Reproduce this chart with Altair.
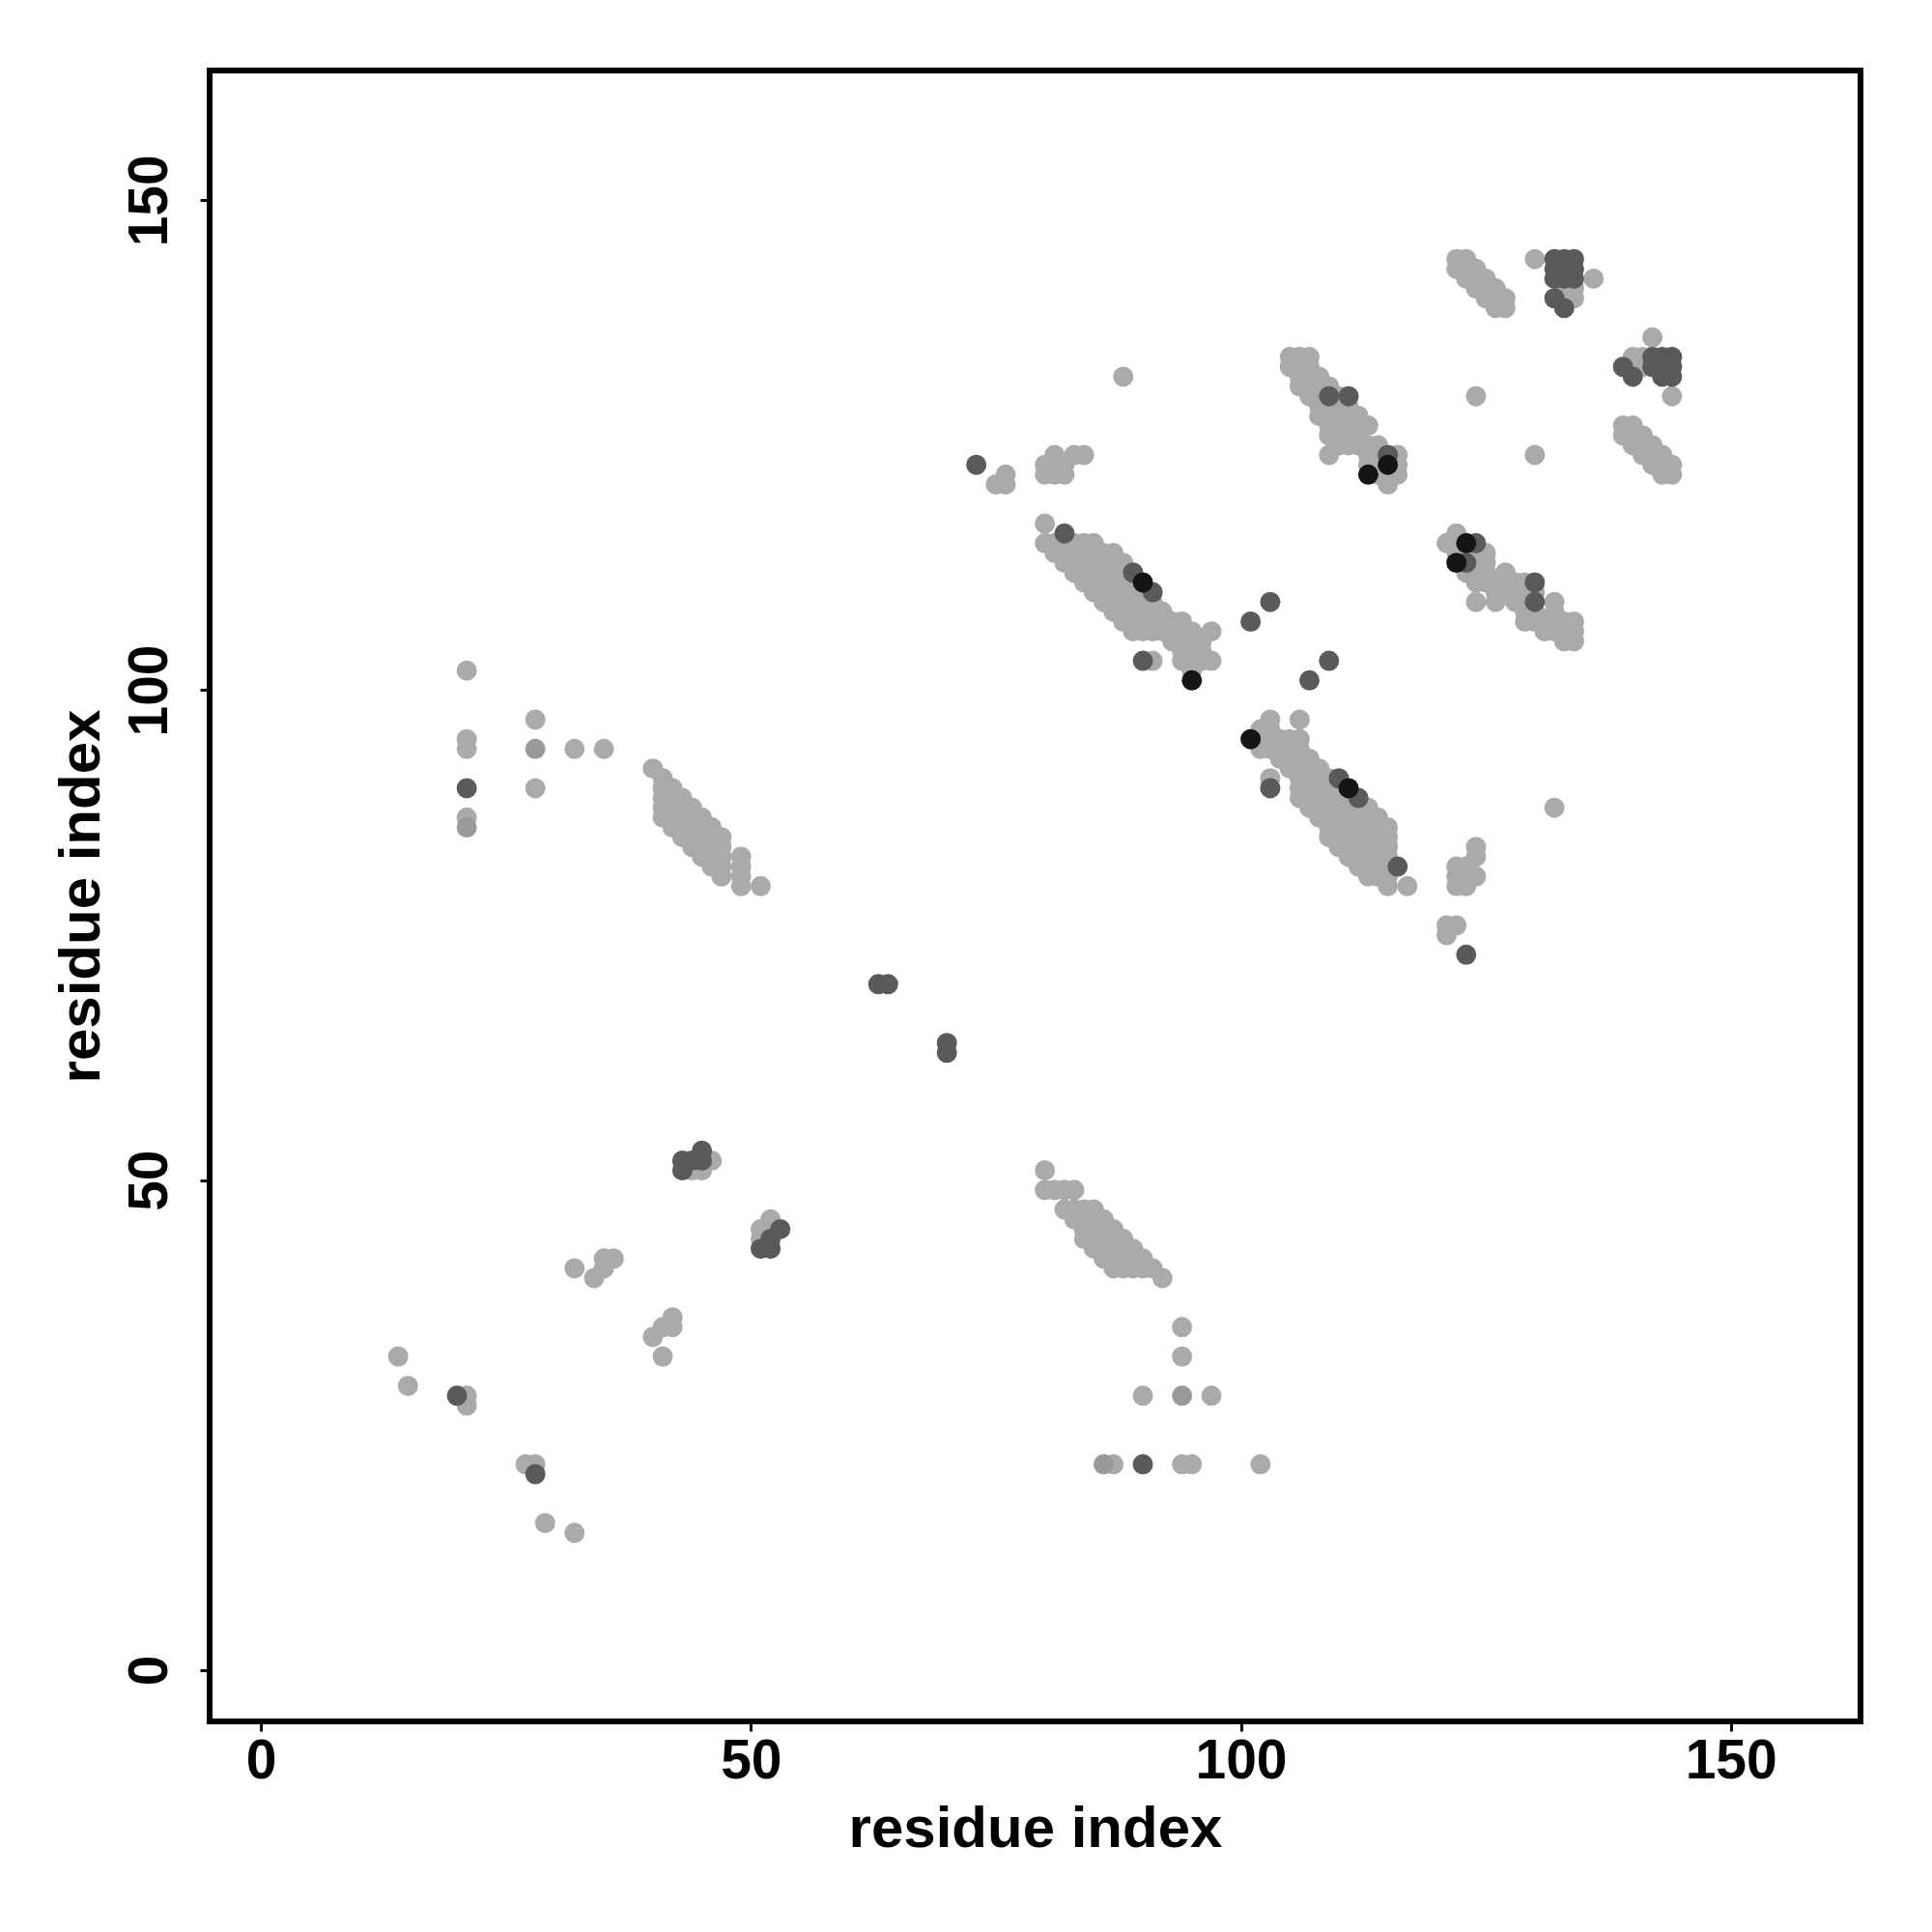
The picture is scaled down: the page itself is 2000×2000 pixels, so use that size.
import altair as alt
import pandas as pd

# ---- contact points (residue i, residue j) ----
light_x = [
    # top-right band A
    122,123,122,123,124,123,124,125,124,125,126,125,126,127,126,127,
    130,136,133,134,133,134,
    140,141,140,141,142,144,124,130,
    # band near (139..144, 127..122)
    139,140,139,140,141,140,141,142,141,142,143,142,143,144,143,144,
    # cluster B
    105,106,107,105,106,107,106,107,108,107,108,109,108,110,109,110,110,111,
    109,110,111,112,111,112,109,109,111,112,113,113,114,113,114,116,114,115,116,115,
    106,107,108,108,109,111,112,113,114,110,116,
    88,
    # cluster C top
    75,76,76,80,80,81,81,81,82,82,83,84,
    # band C
    80,81,81,82,82,82,83,83,83,83,84,84,84,84,84,85,85,85,85,85,85,
    86,86,86,86,86,86,87,87,87,87,87,87,87,88,88,88,88,88,88,88,
    89,89,89,89,89,89,90,90,90,90,90,91,91,91,91,92,92,92,93,93,93,
    94,94,94,94,94,95,95,95,95,95,96,96,96,97,97,80,91,
    # cluster E
    122,121,122,122,123,123,124,124,124,125,125,125,125,126,126,127,127,127,128,128,
    124,126,129,129,130,129,129,130,131,131,132,132,132,133,133,133,134,134,134,130,132,128,
    # band D
    102,103,
    102,103,104,105,106,
    102,103,104,105,106,
    104,105,106,107,
    105,106,107,108,
    106,107,108,109,
    106,107,108,109,110,
    106,107,108,109,110,111,
    107,108,109,110,111,112,113,
    108,109,110,111,112,113,114,
    109,110,111,112,113,114,115,
    109,110,111,112,113,114,115,
    110,111,112,113,114,115,
    111,112,113,114,115,
    112,113,114,115,
    113,114,115,
    115,117,
    103,106,103,
    124,124,122,123,124,122,123,122,123,121,122,121,132,
    # cluster F
    21,28,21,21,28,32,35,21,
    40,41,41,42,41,42,43,41,42,43,44,41,42,43,44,45,42,43,44,45,46,
    43,44,45,46,47,44,45,46,47,45,46,47,49,46,47,49,47,49,49,51,
    # band H and neighbours
    80,80,81,82,83,
    82,83,84,85,83,84,85,86,84,85,86,87,84,85,86,87,88,85,86,87,88,89,
    86,87,88,89,90,87,88,89,90,91,92,
    94,94,90,97,87,94,95,102,
    # cluster G
    46,44,45,52,51,51,32,35,36,35,34,42,41,42,40,41,14,15,21,21,27,28,29,32,
]
light_y = [
    144,144,143,143,143,142,142,142,141,141,141,140,140,140,139,139,
    144,142,141,141,140,140,
    134,134,133,133,136,130,130,124,
    127,127,126,126,126,125,125,125,124,124,124,123,123,123,122,122,
    134,134,134,133,133,133,132,132,132,131,131,131,130,130,129,129,128,128,
    127,127,127,127,126,126,126,124,125,125,125,124,124,123,123,123,122,122,122,121,
    131,130,129,128,128,129,128,127,125,125,124,
    132,
    121,121,122,123,122,124,123,122,123,122,124,124,
    115,114,115,113,114,115,112,113,114,115,111,112,113,114,115,110,111,112,113,114,115,
    109,110,111,112,113,114,108,109,110,111,112,113,114,107,108,109,110,111,112,113,
    106,107,108,109,110,111,106,107,108,109,110,106,107,108,109,106,107,108,105,106,107,
    103,104,105,106,107,102,103,104,105,106,103,104,105,103,106,117,103,
    116,115,115,114,114,112,113,112,111,114,113,112,111,111,110,112,111,110,110,111,
    109,109,111,110,110,108,107,108,107,106,108,107,109,107,106,105,107,106,105,107,106,109,
    96,96,
    95,95,95,95,95,
    94,94,94,94,94,
    93,93,93,93,
    92,92,92,92,
    91,91,91,91,
    90,90,90,90,90,
    89,89,89,89,89,89,
    88,88,88,88,88,88,88,
    87,87,87,87,87,87,87,
    86,86,86,86,86,86,86,
    85,85,85,85,85,85,85,
    84,84,84,84,84,84,
    83,83,83,83,83,
    82,82,82,82,
    81,81,81,
    80,80,
    97,97,91,
    84,83,82,82,81,81,81,80,80,76,76,75,88,
    102,97,95,94,90,94,94,87,
    92,91,90,90,89,89,89,88,88,88,88,87,87,87,87,87,86,86,86,86,86,
    85,85,85,85,85,84,84,84,84,83,83,83,83,82,82,82,81,81,80,80,
    51,49,49,49,49,
    47,47,47,47,46,46,46,46,45,45,45,45,44,44,44,44,44,43,43,43,43,43,
    42,42,42,42,42,41,41,41,41,41,40,
    35,32,28,28,21,21,21,21,
    52,51,51,46,45,44,41,42,42,41,40,36,35,35,34,32,32,29,28,27,21,21,15,14,
]
mid_x = [28, 21, 94, 86]
mid_y = [94, 86, 28, 21]
dark_x = [
    132,133,134,132,133,134,132,133,134,132,133,
    139,140,142,143,144,142,143,144,143,144,
    109,111,115,
    73,82,89,91,90,
    124,123,130,130,
    101,103,107,109,103,110,112,116,123,
    21,
    43,43,44,45,45,53,51,52,52,20,28,
    90,63,64,70,70,
]
dark_y = [
    144,144,144,143,143,143,142,142,142,140,139,
    133,132,134,134,134,133,133,133,132,132,
    130,130,124,
    123,116,112,110,103,
    115,113,111,109,
    107,109,101,103,90,91,89,82,73,
    90,
    52,51,52,53,52,45,43,43,44,28,20,
    21,70,70,64,63,
]
black_x = [115, 113, 90, 95, 123, 122, 101, 111]
black_y = [123, 122, 111, 101, 115, 113, 95, 90]

rows = []
for xs, ys, shade in [(light_x, light_y, "light"), (mid_x, mid_y, "mid"),
                      (dark_x, dark_y, "dark"), (black_x, black_y, "black")]:
    for a, b in zip(xs, ys):
        rows.append({"i": a, "j": b, "shade": shade})
df = pd.DataFrame(rows)
df["order"] = range(len(df))

shades = ["light", "mid", "dark", "black"]
colors = ["#aaaaaa", "#999999", "#5a5a5a", "#151515"]
dom = [-5.24, 163.24]
ticks = [0, 50, 100, 150]
FONT = "Liberation Sans"

chart = alt.Chart(df).mark_circle(opacity=1).encode(
    x=alt.X("i:Q", scale=alt.Scale(domain=dom, nice=False, zero=False),
            axis=alt.Axis(values=ticks, title="residue index", format="d",
                          labelBaseline="top", labelPadding=3,
                          titleX=854.5, titleY=129, titleAlign="center",
                          titleBaseline="alphabetic")),
    y=alt.Y("j:Q", scale=alt.Scale(domain=dom, nice=False, zero=False),
            axis=alt.Axis(values=ticks, title="residue index", format="d",
                          labelAngle=270, labelAlign="center",
                          labelBaseline="alphabetic", labelPadding=35,
                          titleAngle=270, titleX=-115, titleY=854.5,
                          titleAlign="center", titleBaseline="alphabetic")),
    color=alt.Color("shade:N", scale=alt.Scale(domain=shades, range=colors), legend=None),
    size=alt.value(440),
    order=alt.Order("order:Q"),
).properties(
    width=1709, height=1709,
    autosize=alt.AutoSizeParams(type="none"),
    padding={"left": 209, "top": 65, "right": 66, "bottom": 209},
).configure(
    background="white"
).configure_view(
    stroke="black", strokeWidth=6, fill="white"
).configure_axis(
    grid=False, domain=False, ticks=True, tickColor="black", tickSize=10, tickWidth=3,
    labelFont=FONT, labelFontWeight="bold", labelFontSize=57, labelColor="black",
    labelFlush=False, labelOverlap=False,
    titleFont=FONT, titleFontWeight="bold", titleFontSize=60, titleColor="black",
)

chart.save("out.html", embed_options={"renderer": "svg", "actions": False})
